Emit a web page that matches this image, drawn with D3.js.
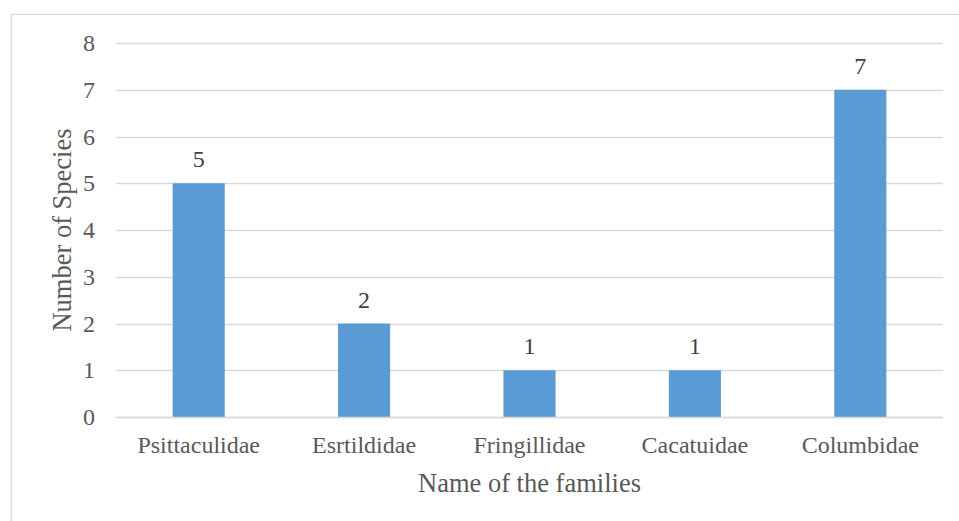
<!DOCTYPE html>
<html>
<head>
<meta charset="utf-8">
<script src="https://cdn.jsdelivr.net/npm/d3@7"></script>
<style>
  html, body { margin: 0; padding: 0; background: #fff; }
  svg { display: block; }
  svg text { font-family: "Liberation Serif", "Times New Roman", serif; }
</style>
</head>
<body>
<svg id="chart" width="959" height="521"></svg>
<script>
// Bird families and number of species recorded in each
const families = ["Psittaculidae", "Esrtildidae", "Fringillidae", "Cacatuidae", "Columbidae"];
const speciesCounts = [5, 2, 1, 1, 7];
const yTicks = [0, 1, 2, 3, 4, 5, 6, 7, 8];

const svg = d3.select("#chart");
const W = 959, H = 521;
const plot = { left: 116, right: 943, top: 43, bottom: 417 };
const serif = '"Liberation Serif", "Times New Roman", serif';

// chart frame
svg.append("rect")
  .attr("x", 11.5).attr("y", 14.5)
  .attr("width", W + 10).attr("height", H + 10)
  .attr("fill", "#fff").attr("stroke", "#d9d9d9").attr("stroke-width", 1.3);

const x = d3.scaleBand().domain(families).range([plot.left, plot.right]).padding(0);
const y = d3.scaleLinear().domain([0, 8]).range([plot.bottom, plot.top]);
const barW = x.step() * 0.315;

// gridlines
svg.append("g").selectAll("line").data(yTicks).join("line")
  .attr("x1", plot.left).attr("x2", plot.right)
  .attr("y1", d => Math.round(y(d)) + 0.5).attr("y2", d => Math.round(y(d)) + 0.5)
  .attr("stroke", "#d9d9d9").attr("stroke-width", 1.3);

// y axis labels
const yAxis = d3.axisLeft(y).tickValues(yTicks).tickSize(0).tickPadding(0).tickFormat(d3.format("d"));
const gy = svg.append("g").attr("transform", `translate(${plot.left - 21},0)`).call(yAxis);
gy.attr("font-family", null).attr("font-size", null);
gy.select(".domain").remove();
gy.selectAll("text")
  .style("font-family", serif).style("font-size", "24px").attr("fill", "#595959");

// bars
svg.append("g").selectAll("rect").data(families).join("rect")
  .attr("x", (d) => x(d) + x.bandwidth() / 2 - barW / 2)
  .attr("width", barW)
  .attr("y", (d, i) => y(speciesCounts[i]))
  .attr("height", (d, i) => y(0) - y(speciesCounts[i]))
  .attr("fill", "#5b9bd5");

// baseline over the bars
svg.append("line")
  .attr("x1", plot.left).attr("x2", plot.right)
  .attr("y1", Math.round(y(0)) + 0.5).attr("y2", Math.round(y(0)) + 0.5)
  .attr("stroke", "#d9d9d9").attr("stroke-width", 1.3);

// value labels
svg.append("g").selectAll("text").data(families).join("text")
  .attr("x", d => x(d) + x.bandwidth() / 2)
  .attr("y", (d, i) => y(speciesCounts[i]) - 16)
  .attr("text-anchor", "middle")
  .style("font-family", serif).style("font-size", "24px")
  .attr("fill", "#404040")
  .text((d, i) => speciesCounts[i]);

// category labels
const xAxis = d3.axisBottom(x).tickSize(0).tickPadding(0);
const gx = svg.append("g").attr("transform", `translate(0,${plot.bottom + 19})`).call(xAxis);
gx.attr("font-family", null).attr("font-size", null);
gx.select(".domain").remove();
gx.selectAll("text")
  .style("font-family", serif).style("font-size", "24px").attr("fill", "#595959");

// axis titles
svg.append("text")
  .attr("transform", `translate(71,${(plot.top + plot.bottom) / 2}) rotate(-90)`)
  .attr("text-anchor", "middle")
  .style("font-family", serif).style("font-size", "26.5px")
  .attr("fill", "#595959")
  .text("Number of Species");

svg.append("text")
  .attr("x", (plot.left + plot.right) / 2).attr("y", 492)
  .attr("text-anchor", "middle")
  .style("font-family", serif).style("font-size", "26.5px")
  .attr("fill", "#595959")
  .text("Name of the families");
</script>
</body>
</html>
